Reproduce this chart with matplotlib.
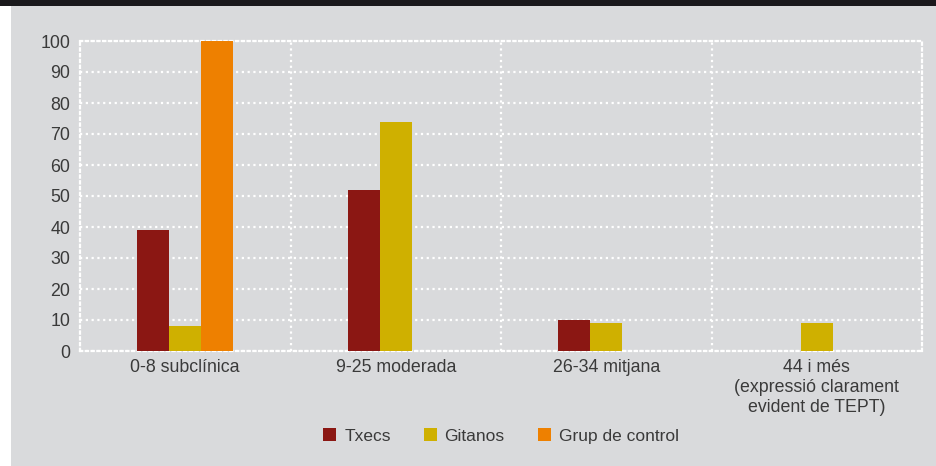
import matplotlib
matplotlib.use('Agg')
import matplotlib.pyplot as plt
from matplotlib.patches import Rectangle
import numpy as np

# dades
categories = ['0-8 subclínica', '9-25 moderada', '26-34 mitjana',
              '44 i més\n(expressió clarament\nevident de TEPT)']
series_names = ['Txecs', 'Gitanos', 'Grup de control']
txecs = [39, 52, 10, 0]
gitanos = [8, 74, 9, 9]
control = [100, 0, 0, 0]
yticks = [0, 10, 20, 30, 40, 50, 60, 70, 80, 90, 100]

colors = ['#8b1713', '#cfb000', '#ee8000']
bg = '#d9dadc'
txt = '#3a3a3a'

plt.rcParams['font.family'] = ['Liberation Sans', 'DejaVu Sans']

fig = plt.figure(figsize=(9.36, 4.66), dpi=100, facecolor=bg)
W, H = 936, 466
# franja fosca de dalt i franja blanca a l'esquerra
fig.patches.append(Rectangle((0, 1 - 6 / H), 1, 6 / H, transform=fig.transFigure,
                             facecolor='#1a191c', edgecolor='none', zorder=0))
fig.patches.append(Rectangle((0, 0), 11 / W, 1 - 6 / H, transform=fig.transFigure,
                             facecolor='white', edgecolor='none', zorder=0))

ax = fig.add_axes([80 / W, (H - 351) / H, (922 - 80) / W, (351 - 41) / H])
ax.set_facecolor(bg)

x = np.arange(len(categories))
w = 0.152
for i, (vals, name) in enumerate(zip([txecs, gitanos, control], series_names)):
    ax.bar(x + (i - 1) * w, vals, width=w, color=colors[i], label=name, zorder=3)

ax.set_xlim(-0.5, len(categories) - 0.5)
ax.set_ylim(0, 100)
ax.set_yticks(yticks)
ax.set_xticks(x)
ax.set_xticklabels(categories, linespacing=1.2)
ax.set_xticks(x[:-1] + 0.5, minor=True)

dots = (0, (1, 1.6))
ax.grid(True, axis='y', which='major', color='white', linestyle=dots, linewidth=1.6, zorder=1)
ax.grid(True, axis='x', which='minor', color='white', linestyle=dots, linewidth=1.6, zorder=1)
ax.grid(False, axis='x', which='major')
for s in ax.spines.values():
    s.set_color('white')
    s.set_linestyle(dots)
    s.set_linewidth(1.6)
    s.set_zorder(1)

ax.tick_params(axis='both', which='both', length=0, colors=txt, labelsize=12.8)
ax.tick_params(axis='y', pad=7)
ax.tick_params(axis='x', pad=6)

fig.legend(loc='center', bbox_to_anchor=(501 / W, 1 - 436 / H), ncol=3,
           frameon=False, fontsize=12.5, labelcolor=txt,
           handlelength=0.75, handleheight=0.75, handletextpad=0.45,
           columnspacing=1.9)

fig.savefig('out.png', dpi=100, facecolor=bg)
